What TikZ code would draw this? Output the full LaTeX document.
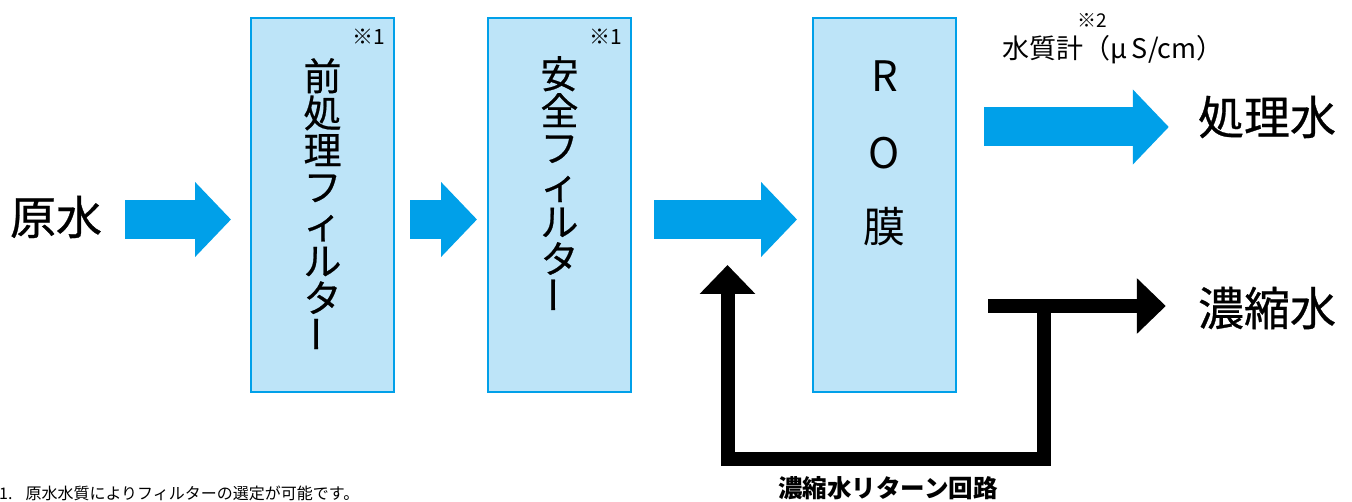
\documentclass[tikz,border=0pt]{standalone}
\usepackage{fontspec}
\setmainfont{Noto Sans CJK JP}
\newfontfamily\medfont{Noto Sans CJK JP}[FakeBold=0.6]
\usetikzlibrary{arrows.meta}

\definecolor{flowblue}{RGB}{0,160,233}
\definecolor{boxblue}{RGB}{189,228,248}

\tikzset{
  unit/.style={draw=flowblue, fill=boxblue, line width=2pt,
    minimum width=143pt, minimum height=374pt},
  vtext/.style={font=\medfont\fontsize{38pt}{37pt}\selectfont, align=center,
    inner sep=0pt, anchor=north},
  rotext/.style={font=\fontsize{42pt}{42pt}\selectfont, inner sep=0pt},
  big/.style={font=\medfont\fontsize{46pt}{46pt}\selectfont, inner sep=0pt},
  notemark/.style={font=\fontsize{21pt}{21pt}\selectfont, inner sep=0pt},
  flow/.style={draw=flowblue, line width=39pt,
    -{Triangle[width=73pt,length=36pt]}},
  drain/.style={draw=black, line width=14pt, line join=miter,
    -{Triangle[width=54pt,length=29pt]}},
}

\begin{document}
\begin{tikzpicture}[x=1pt,y=-1pt]
  \useasboundingbox (0,0) rectangle (1352,502);

  % units
  \node[unit] (pre)  at (322.5,205) {};
  \node[unit] (safe) at (559.5,205) {};
  \node[unit] (ro)   at (884.5,205) {};

  \node[vtext] (pretxt)  at (322.5,58) {前\\処\\理\\フ\\ィ\\ル\\タ\\\rotatebox{90}{ー}};
  \node[vtext] (safetxt) at (559.5,56) {安\\全\\フ\\ィ\\ル\\タ\\\rotatebox{90}{ー}};
  \node[rotext] (r) at (884.5,76)  {R};
  \node[rotext] (o) at (884.5,153) {O};
  \node[rotext] (m) at (884.5,227) {膜};

  \node[notemark] (premark)  at (369,37) {※1};
  \node[notemark] (safemark) at (606,37) {※1};

  % inlet and outlets
  \node[big] (raw)  at (56,217)   {原水};
  \node[big] (prod) at (1267,117) {処理水};
  \node[big] (conc) at (1267,308) {濃縮水};

  \node[font=\fontsize{19pt}{19pt}\selectfont, inner sep=0pt] (meterno) at (1092,20) {※2};
  \node[font=\fontsize{27pt}{27pt}\selectfont, inner sep=0pt] (meter) at (1113,50) {水質計（μ\,S/cm）};

  % blue flow arrows
  \coordinate (feed) at (0,219.5);
  \coordinate (out)  at (0,127);
  \draw[flow] ([xshift=23pt]raw.east |- feed) -- ([xshift=-19pt]pre.west |- feed);
  \draw[flow] ([xshift=15pt]pre.east |- feed) -- ([xshift=-10pt]safe.west |- feed);
  \draw[flow] ([xshift=22pt]safe.east |- feed) -- ([xshift=-15pt]ro.west |- feed);
  \draw[flow] ([xshift=27pt]ro.east |- out) -- ([xshift=-29pt]prod.west |- out);

  % concentrate and return loop
  \coordinate (rej)  at (0,306);
  \coordinate (tee)  at (1044,306);
  \coordinate (loop) at (0,459);
  \coordinate (ret)  at (727.5,265);
  \draw[drain] ([xshift=31pt]ro.east |- rej) -- ([xshift=-32pt]conc.west |- rej);
  \draw[drain] (tee) |- (ret |- loop) -- (ret);

  \node[font=\fontsize{24.5pt}{24.5pt}\selectfont\bfseries, inner sep=0pt] (retlbl) at (888,488) {濃縮水リターン回路};
  \node[font=\fontsize{16pt}{16pt}\selectfont, inner sep=0pt, anchor=west] (note) at (-1,493) {1.\hspace{13pt}原水水質によりフィルターの選定が可能です。};
\end{tikzpicture}
\end{document}
